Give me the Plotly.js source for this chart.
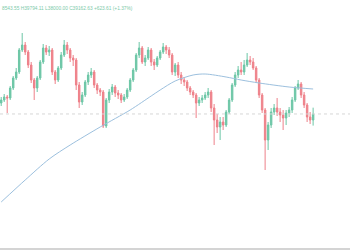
<!DOCTYPE html>
<html>
<head>
<meta charset="utf-8">
<script src="https://cdn.plot.ly/plotly-3.0.1.min.js"></script>
<style>html,body{margin:0;padding:0;background:#fff;}#chart{width:350px;height:250px;}</style>
</head>
<body>
<div id="chart"></div>
<script>
var openP = [40260,40560,40860,40760,41760,42760,43360,45560,46060,45360,44060,42560,41760,42760,44360,45760,45360,45560,43360,42560,43760,45060,46060,45560,44760,44560,42060,40360,41060,42360,43060,43360,42060,41560,41360,37960,40560,41360,41860,41260,41060,40560,40860,41560,42560,43560,45060,45760,44360,44760,45560,44360,44060,44760,45360,45860,45560,45060,43360,44060,43060,42560,42360,41760,41360,41060,40260,40560,40760,41060,41360,39760,38560,37860,38360,38060,39360,40560,42060,43060,43560,43360,44060,44560,44360,43760,42560,41060,39560,36560,38060,39360,39760,39360,39060,38760,39260,39560,40560,41760,42160,41060,40060,38860,38560];
var highP = [40860,41160,41060,41960,42960,43760,45760,47260,46360,45560,44360,42760,42960,44560,46160,46060,45960,45760,43560,43960,45360,46560,46360,45760,45060,44760,42360,41360,42560,43360,43760,43560,42260,41760,41560,40760,41660,42160,42060,41560,41260,41160,41760,42760,43760,45260,46360,45960,45060,45860,45760,44660,44960,45560,46260,46060,45860,45260,44260,44360,43360,42860,42560,41960,41560,41260,40860,41060,41360,41760,41560,40160,39160,38860,38860,39560,40760,42260,43360,43960,44360,44560,45260,44960,44760,43960,42760,41260,39760,38360,39760,40160,40760,39760,39560,39560,39860,40860,41960,42560,42360,41360,40260,39360,39794];
var lowP = [39960,40360,39260,40560,41560,42560,43160,45360,45060,43760,42260,40560,41360,42560,44160,45060,44960,43060,42160,42360,43560,44860,45160,44360,43960,41560,39760,40060,40860,42060,42760,41760,41160,40960,37760,37760,40260,41060,40860,40660,40260,40360,40660,41360,42360,43360,44760,44160,43960,44560,43960,43560,43860,44560,45160,45160,44760,43060,42960,42760,42160,41960,41460,41060,40760,38760,39960,40260,40560,40760,39360,36060,37260,36560,37560,37860,39160,40360,41860,42760,43060,43060,43860,44060,43560,42260,40760,39260,33560,35560,37760,39060,38960,38360,37560,38060,38860,39260,40360,41560,40760,39760,38360,38160,38000];
var closeP = [40560,40860,40760,41760,42760,43360,45560,46060,45360,44060,42560,41760,42760,44360,45760,45360,45560,43360,42560,43760,45060,46060,45560,44760,44560,42060,40360,41060,42360,43060,43360,42060,41560,41360,37960,40560,41360,41860,41260,41060,40560,40860,41560,42560,43560,45060,45760,44360,44760,45560,44360,44060,44760,45360,45860,45560,45060,43360,44060,43060,42560,42360,41760,41360,41060,40260,40560,40760,41060,41360,39760,38560,37860,38360,38060,39360,40560,42060,43060,43560,43360,44060,44560,44360,43760,42560,41060,39560,36560,38060,39360,39760,39360,39060,38760,39260,39560,40560,41760,42160,41060,40060,38860,38560,39163];
var maIdx = [0,8,16,23,33,43,50,53,58,64,68,75,80,86,96,104];
var maVal = [30360,32560,34660,36060,37860,39560,40960,41560,42460,43060,43160,42860,42560,42260,41860,41660];
var headerText = "8543.55 H39794.11 L38000.00 C39162.63 +623.61 (+1.37%)";
var lastPrice = 39163;

var idx = closeP.map(function(_, i){ return i; });

var candles = {
  type: 'candlestick',
  x: idx, open: openP, high: highP, low: lowP, close: closeP,
  increasing: {line: {color: '#6cc6a6', width: 1}, fillcolor: '#6cc6a6'},
  decreasing: {line: {color: '#ee8089', width: 1}, fillcolor: '#ee8089'},
  whiskerwidth: 0,
  hoverinfo: 'none'
};
var ma = {
  type: 'scatter', mode: 'lines',
  x: maIdx, y: maVal,
  line: {color: '#9cc0de', width: 1, shape: 'spline', smoothing: 0.8},
  hoverinfo: 'none'
};

var layout = {
  width: 350, height: 250,
  margin: {l: 0, r: 0, t: 0, b: 0},
  paper_bgcolor: '#ffffff', plot_bgcolor: '#ffffff',
  showlegend: false,
  xaxis: {range: [-0.4, 116.3], visible: false, rangeslider: {visible: false}, fixedrange: true},
  yaxis: {range: [25560, 50560], visible: false, fixedrange: true},
  shapes: [
    {type: 'line', xref: 'paper', x0: 0, x1: 1, yref: 'y', y0: lastPrice, y1: lastPrice,
     line: {color: '#d6d6d6', width: 1, dash: 'dot'}},
    {type: 'rect', xref: 'paper', yref: 'paper', x0: 0, x1: 1, y0: 0, y1: 0.008,
     fillcolor: '#d4d4d4', line: {width: 0}}
  ],
  annotations: [
    {xref: 'paper', yref: 'paper', x: 0, y: 1, yshift: -4, xanchor: 'left', yanchor: 'top',
     text: headerText, showarrow: false,
     font: {family: 'Liberation Sans, Arial, sans-serif', size: 4.8, color: '#7ccaa9'}}
  ]
};

Plotly.newPlot('chart', [ma, candles], layout, {staticPlot: true, displayModeBar: false});
</script>
</body>
</html>
